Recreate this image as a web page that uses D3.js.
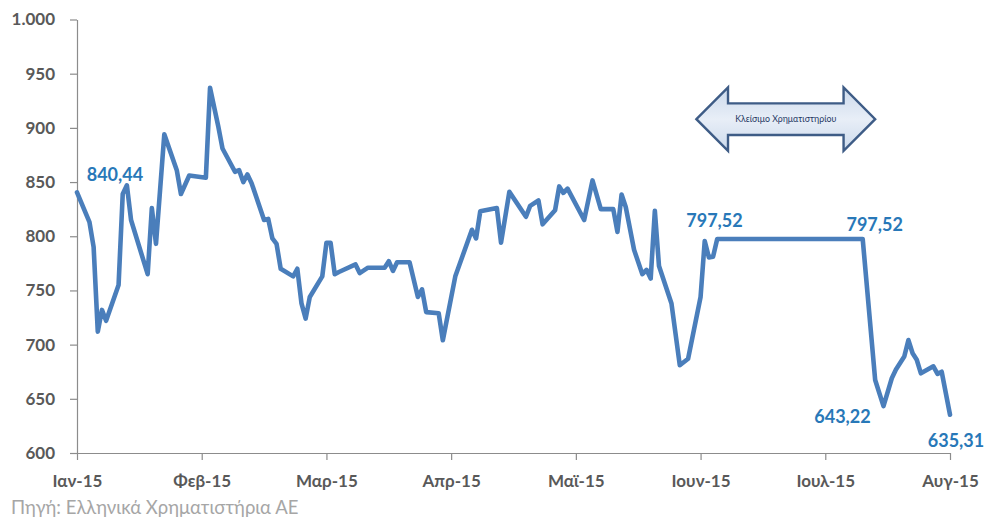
<!DOCTYPE html>
<html lang="el">
<head>
<meta charset="utf-8">
<script src="https://cdn.jsdelivr.net/npm/d3@7"></script>
<style>
  html, body { margin: 0; padding: 0; background: #ffffff; }
  svg { display: block; }
  .tick text { font-family: Lato, "Open Sans", sans-serif; font-weight: 700; fill: #595959; }
</style>
</head>
<body>
<svg id="chart" width="987" height="519"></svg>
<script>
// Γενικός Δείκτης Χρηματιστηρίου Αθηνών, Ιανουάριος – Αύγουστος 2015
// Day offsets from the start of January (30-day month grid) and closing values
const sessionDay = [
  0, 3, 4, 5, 6, 7, 10, 11, 12, 13, 17, 18, 19, 21, 24, 25, 27, 31,
  32, 34, 35, 38, 39, 40, 41, 42, 45, 46, 47, 48, 49, 52, 53, 54, 55, 56,
  59, 60, 61, 62, 63, 67, 68, 70, 74, 75, 76, 77, 80, 82, 83, 84, 87, 88,
  91, 95, 96, 97, 101, 102, 104, 108, 109, 111, 112, 115, 116, 117, 118, 122,
  124, 126, 129, 130, 131, 132, 134, 136, 137, 138, 139, 140, 143, 145, 147,
  150, 151, 152, 153, 154, 189, 192, 194, 196, 197, 199, 200, 201, 202, 203,
  206, 207, 208, 210
];
const closeValue = [
  840.44, 813, 790, 712, 732, 722, 755, 839, 847, 815, 765, 826, 793, 894, 861, 839, 856, 854,
  937, 901, 881, 859.5, 861, 850, 857, 849, 815, 816, 798, 793, 770, 763, 770, 738, 724, 744,
  763, 794, 794, 765, 767, 774, 766, 771, 771, 777, 768, 776, 776, 744, 751, 730, 729, 704,
  763, 806, 798, 823, 826, 794, 841, 818, 828, 833, 811, 824, 846, 840, 844, 815,
  851.5, 825, 825, 804, 838.5, 827, 787.5, 765, 769, 761, 823.5, 772.5, 738, 681, 687,
  744, 795.6, 780.5, 781, 797.52, 797.52, 667.3, 643.22, 669, 677, 689, 704.2, 692, 686, 673.5,
  680, 673, 675, 635.31
];

// Month labels and the day offset where each one sits
const monthLabels = ["Ιαν-15", "Φεβ-15", "Μαρ-15", "Απρ-15", "Μαϊ-15", "Ιουν-15", "Ιουλ-15", "Αυγ-15"];
const monthDays = [0, 30, 60, 90, 120, 150, 180, 210];

// Value axis ticks
const yTicks = [600, 650, 700, 750, 800, 850, 900, 950, 1000];

// Values called out on the line (by position in the series)
const calloutIndex = [0, 89, 90, 92, 103];

// Market-closure annotation: span in days and level on the value axis
const closureSpan = [149, 192];
const closureLevel = 908;
const closureText = "Κλείσιμο Χρηματιστηρίου";
const sourceText = "Πηγή: Ελληνικά Χρηματιστήρια ΑΕ";

const el = d3.formatLocale({ decimal: ",", thousands: ".", grouping: [3], currency: ["", "€"] });
const fmtTick = el.format(",");
const fmtValue = el.format(",.2f");

const svg = d3.select("#chart");
const x = d3.scaleLinear().domain([0, 210]).range([77, 950]);
const y = d3.scaleLinear().domain([600, 1000]).range([453, 19.5]);

// Y axis
const gy = svg.append("g").attr("transform", `translate(${x(0)},0)`)
  .call(d3.axisLeft(y).tickValues(yTicks).tickFormat(fmtTick).tickSize(7).tickSizeOuter(0).tickPadding(15));
gy.selectAll("text").style("font-size", "17px");

// X axis
const gx = svg.append("g").attr("transform", `translate(0,${y(600)})`)
  .call(d3.axisBottom(x).tickValues(monthDays).tickFormat((d, i) => monthLabels[i]).tickSize(7).tickSizeOuter(0));
gx.selectAll("text").style("font-size", "17px").attr("y", 33.7).attr("dy", 0);

svg.selectAll(".domain, .tick line").attr("stroke", "#8c8c8c").attr("stroke-width", 1.2);

// Index line
const series = sessionDay.map((d, i) => ({ day: d, value: closeValue[i] }));
svg.append("path")
  .datum(series)
  .attr("fill", "none")
  .attr("stroke", "#4A7EBB")
  .attr("stroke-width", 4.6)
  .attr("stroke-linejoin", "round")
  .attr("stroke-linecap", "round")
  .attr("d", d3.line().x(d => x(d.day)).y(d => y(d.value)));

// Value call-outs
const calloutOffset = [
  { dx: 9.7, dy: -11.5, anchor: "start" },
  { dx: -2.7, dy: -12, anchor: "middle" },
  { dx: 12, dy: -8, anchor: "middle" },
  { dx: -12.8, dy: 17, anchor: "end" },
  { dx: 6, dy: 32, anchor: "middle" }
];
svg.append("g").selectAll("text")
  .data(calloutIndex)
  .join("text")
  .attr("x", (k, i) => x(series[k].day) + calloutOffset[i].dx)
  .attr("y", (k, i) => y(series[k].value) + calloutOffset[i].dy)
  .attr("text-anchor", (k, i) => calloutOffset[i].anchor)
  .style("font-family", "Lato, 'Open Sans', sans-serif")
  .style("font-weight", 700)
  .style("font-size", "18px")
  .style("fill", "#2878B8")
  .text(k => fmtValue(series[k].value));

// Double-headed block arrow marking the closure
const defs = svg.append("defs");
const grad = defs.append("linearGradient").attr("id", "arrowFill").attr("x1", 0).attr("y1", 0).attr("x2", 0).attr("y2", 1);
grad.append("stop").attr("offset", "0%").attr("stop-color", "#CCDAEC");
grad.append("stop").attr("offset", "50%").attr("stop-color", "#E8EEF7");
grad.append("stop").attr("offset", "100%").attr("stop-color", "#CCDAEC");

const ax0 = x(closureSpan[0]), ax1 = x(closureSpan[1]), ay = y(closureLevel);
const headLen = 31.6, headHalf = 31.7, shaftHalf = 15.8;
const arrowPts = [
  [ax0, ay], [ax0 + headLen, ay - headHalf], [ax0 + headLen, ay - shaftHalf],
  [ax1 - headLen, ay - shaftHalf], [ax1 - headLen, ay - headHalf], [ax1, ay],
  [ax1 - headLen, ay + headHalf], [ax1 - headLen, ay + shaftHalf],
  [ax0 + headLen, ay + shaftHalf], [ax0 + headLen, ay + headHalf]
];
svg.append("path")
  .attr("d", d3.line()(arrowPts) + "Z")
  .attr("fill", "url(#arrowFill)")
  .attr("stroke", "#3E5C86")
  .attr("stroke-width", 2.4)
  .attr("stroke-linejoin", "miter");
svg.append("text")
  .attr("x", (ax0 + ax1) / 2)
  .attr("y", ay)
  .attr("dy", "0.35em")
  .attr("text-anchor", "middle")
  .style("font-family", "Lato, 'Open Sans', sans-serif")
  .style("font-size", "8.8px")
  .style("fill", "#1F3864")
  .text(closureText);

// Source note
svg.append("text")
  .attr("x", 11)
  .attr("y", 514)
  .style("font-family", "Lato, 'Open Sans', sans-serif")
  .style("font-size", "18.5px")
  .style("fill", "#A6A6A6")
  .text(sourceText);
</script>
</body>
</html>
